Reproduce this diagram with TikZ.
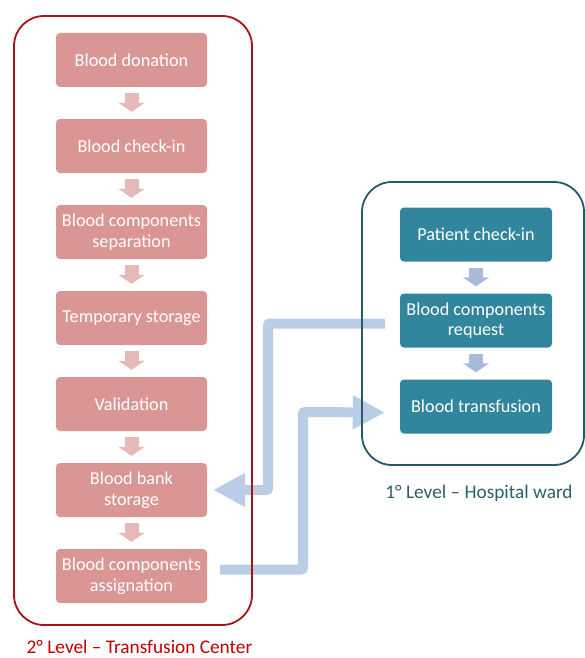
\documentclass[tikz,border=0pt]{standalone}
\usepackage{fontspec}
\setmainfont{Carlito}
\usetikzlibrary{arrows.meta,positioning}

\definecolor{boxred}{HTML}{D99694}
\definecolor{arrred}{HTML}{E6B9B8}
\definecolor{framered}{HTML}{A8121A}
\definecolor{labelred}{HTML}{C00000}
\definecolor{boxteal}{HTML}{31859C}
\definecolor{frameteal}{HTML}{255A66}
\definecolor{labelteal}{HTML}{2E5F6E}
\definecolor{arrblue}{HTML}{B9CDE5}
\definecolor{arrsteel}{HTML}{A7BBD9}

\tikzset{
	redbox/.style={fill=boxred,rounded corners=4pt,minimum width=151pt,minimum height=54pt,
		inner sep=0pt,text=white,align=center,font=\fontsize{18.2}{20.5}\selectfont},
	tealbox/.style={redbox,fill=boxteal,minimum width=152pt},
	downred/.style={draw=arrred,line width=14pt,-{Triangle[width=26pt,length=9pt]}},
	downteal/.style={downred,draw=arrsteel,fill=arrsteel},
	bigarrow/.style={draw=arrblue,line width=10pt,rounded corners=2pt,-{Triangle[width=32pt,length=32pt]}},
	level/.style={font=\fontsize{19.3}{22}\selectfont,anchor=base,inner sep=0pt}
}

\def\h{86}
\def\rot#1#2#3{
	\node[redbox,fill=boxred] (#1) at (131.5,{60+(#2-1)*\h}) {#3};
}
\def\blau#1#2#3{
	\node[tealbox] (#1) at (476,{234.5+(#2-1)*\h}) {#3};
}

\begin{document}
\begin{tikzpicture}[x=1pt,y=-1pt]
\useasboundingbox (0,0) rectangle (585,658);

% transfusion center
\rot{don}{1}{Blood donation}
\rot{checkin}{2}{Blood check-in}
\rot{sep}{3}{Blood components\\separation}
\rot{temp}{4}{Temporary storage}
\rot{valid}{5}{Validation}
\rot{bank}{6}{Blood bank\\storage}
\rot{assign}{7}{Blood components\\assignation}

% hospital ward
\blau{patient}{1}{Patient check-in}
\blau{req}{2}{Blood components\\request}
\blau{trans}{3}{Blood transfusion}

\foreach \a/\b in {don/checkin,checkin/sep,sep/temp,temp/valid,valid/bank,bank/assign}{
	\draw[downred] ([yshift=-6pt]\a.south) -- ([yshift=7pt]\b.north);
}
\foreach \a/\b in {patient/req,req/trans}{
	\draw[downteal] ([yshift=-6pt]\a.south) -- ([yshift=7pt]\b.north);
}

% request and assignation
\coordinate (bendone) at (268,490);
\coordinate (bendtwo) at (303,412);
\draw[bigarrow] ([xshift=-15pt,yshift=-3pt]req.west) -| (bendone) -- ([xshift=6pt]bank.east);
\draw[bigarrow] ([xshift=13pt,yshift=6.5pt]assign.east) -| (bendtwo) -- ([xshift=-15pt,yshift=-6pt]trans.west);

% frames
\draw[framered,line width=1.8pt,rounded corners=30pt] (14,16) rectangle (252,625);
\draw[frameteal,line width=1.8pt,rounded corners=30pt] (362,182) rectangle (584,465);

\node[level,text=labelred] (center) at (139.5,653.5) {2° Level – Transfusion Center};
\node[level,text=labelteal] (ward) at (479,498) {1° Level – Hospital ward};
\end{tikzpicture}
\end{document}
